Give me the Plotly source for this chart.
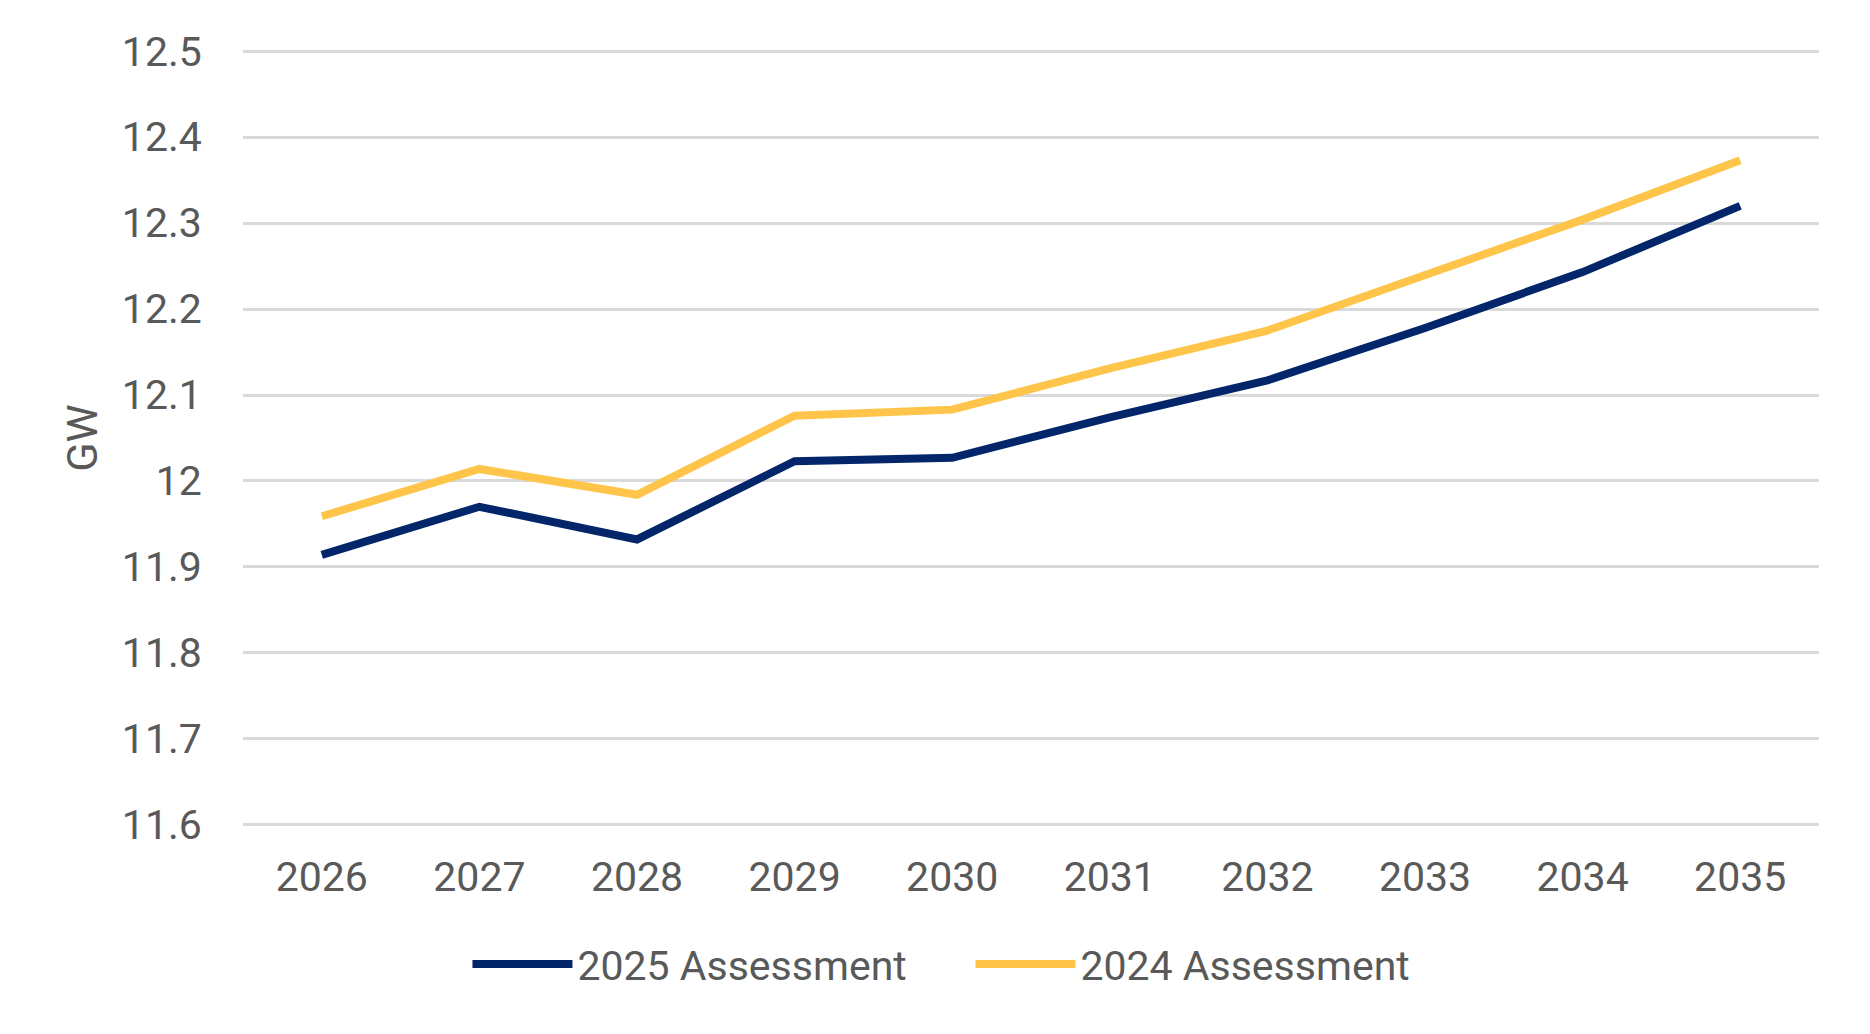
import plotly.graph_objects as go

years = ["2026", "2027", "2028", "2029", "2030", "2031", "2032", "2033", "2034", "2035"]
assess_2025 = [11.914, 11.970, 11.932, 12.023, 12.027, 12.074, 12.117, 12.178, 12.243, 12.320]
assess_2024 = [11.959, 12.014, 11.984, 12.076, 12.083, 12.131, 12.175, 12.239, 12.304, 12.373]
y_ticks = [11.6, 11.7, 11.8, 11.9, 12.0, 12.1, 12.2, 12.3, 12.4, 12.5]
y_tick_text = ["11.6", "11.7", "11.8", "11.9", "12", "12.1", "12.2", "12.3", "12.4", "12.5"]

FS = 41

fig = go.Figure()
fig.add_trace(go.Scatter(x=years, y=assess_2025, mode="lines", name="2025 Assessment",
                         line=dict(color="#03266b", width=8)))
fig.add_trace(go.Scatter(x=years, y=assess_2024, mode="lines", name="2024 Assessment",
                         line=dict(color="#ffc54a", width=8)))

fig.update_layout(
    width=1870, height=1034,
    margin=dict(l=235, r=59, t=41, b=215, autoexpand=False),
    paper_bgcolor="white", plot_bgcolor="white",
    font=dict(family="Roboto", size=FS, color="#595959"),
    showlegend=True,
    legend=dict(orientation="h", xref="container", x=0.2457, xanchor="left",
                yref="container", y=0.075, yanchor="middle", font=dict(size=FS, color="#595959"),
                itemwidth=100, entrywidth=388, entrywidthmode="pixels"),
    xaxis=dict(type="category", range=[-0.5, 9.5], showgrid=False, showline=False,
               zeroline=False, ticks="outside", ticklen=14, tickcolor="rgba(0,0,0,0)",
               tickangle=0, tickfont=dict(size=FS, color="#595959")),
    yaxis=dict(range=[11.5975, 12.5025], tickvals=y_ticks, ticktext=y_tick_text,
               showgrid=True, gridcolor="#d9d9d9", gridwidth=2.5, zeroline=False,
               showline=False, ticks="outside", ticklen=32, tickcolor="rgba(0,0,0,0)",
               tickfont=dict(size=FS, color="#595959"),
               title=dict(text="GW", font=dict(size=FS + 2, color="#595959"), standoff=10)),
)

fig.write_html("out.html")
